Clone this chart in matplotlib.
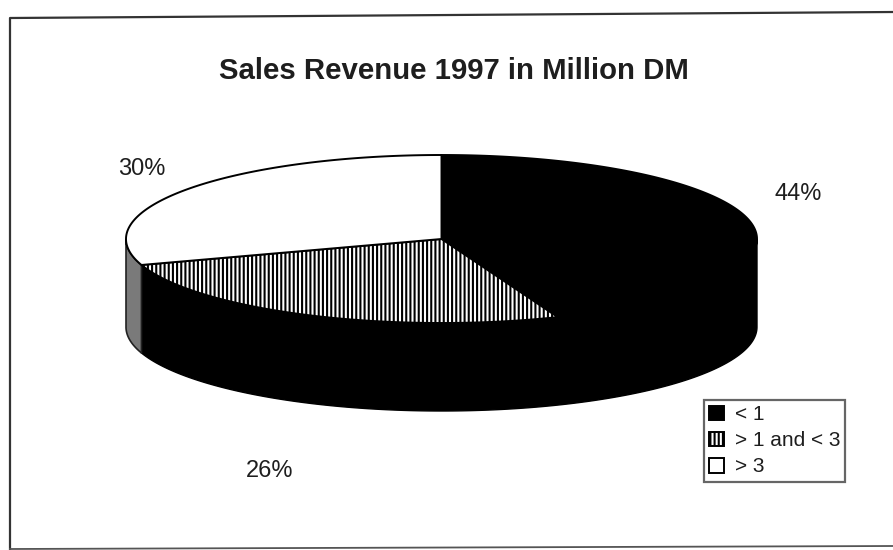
import numpy as np
import matplotlib
matplotlib.use('Agg')
import matplotlib.pyplot as plt
from matplotlib.patches import Patch, Polygon

plt.rcParams['font.family'] = ['Liberation Sans', 'DejaVu Sans']
plt.rcParams['hatch.linewidth'] = 1.5

title = 'Sales Revenue 1997 in Million DM'
categories = ['< 1', '> 1 and < 3', '> 3']
shares = [44, 26, 30]
share_labels = ['44%', '26%', '30%']

# pie drawn in image pixels
CX, CY = 441.5, 239
RX, RY = 315.5, 84
DEPTH = 88
INK = '#1e1e1e'


def rim(a0, a1, dy=0):
    '''Points on the ellipse, angles in degrees clockwise from 12 o'clock.'''
    t = np.radians(np.linspace(a0, a1, 200))
    return np.column_stack((CX + RX*np.sin(t), CY + dy - RY*np.cos(t)))


def wall(a0, a1):
    return np.vstack((rim(a0, a1), rim(a0, a1, DEPTH)[::-1]))


fig = plt.figure(figsize=(8.93, 5.5), dpi=100)
ax = fig.add_axes([0, 0, 1, 1])
ax.set_xlim(0, 893)
ax.set_ylim(550, 0)
ax.axis('off')

# scanned page frame, slightly skewed
ax.plot([893, 10, 10], [12, 18, 550], color='#333333', lw=1.6)
ax.plot([10, 893], [549, 546], color='#555555', lw=1.3)

edges = np.cumsum([0] + shares) * 3.6

# visible side of the cylinder
ax.add_patch(Polygon(wall(90, edges[2]), fc='black', ec='black', lw=1))
ax.add_patch(Polygon(wall(edges[2], 270), fc='#7a7a7a', ec='#222222', lw=1.2))

# top faces
styles = [dict(fc='black', ec='black'),
          dict(fc='white', ec='black', hatch='||||'),
          dict(fc='white', ec='black')]
for i, st in enumerate(styles):
    pts = np.vstack(([[CX, CY]], rim(edges[i], edges[i+1])))
    ax.add_patch(Polygon(pts, lw=1.4, **st))

ax.text(454, 71, title, fontsize=21.2, fontweight='bold', color=INK,
        ha='center', va='center')

label_pos = [(798, 194), (269.5, 471), (141.5, 169)]
for s, (x, y) in zip(share_labels, label_pos):
    ax.text(x, y, s, fontsize=17, color=INK, ha='center', va='center')

handles = [Patch(fc='black', ec='black', lw=1.4),
           Patch(fc='white', ec='black', lw=1.4, hatch='||||'),
           Patch(fc='white', ec='black', lw=1.4)]
leg = ax.legend(handles, categories, loc='upper left',
                bbox_to_anchor=(704, 400), bbox_transform=ax.transData,
                fontsize=15, frameon=True, fancybox=False, framealpha=1,
                edgecolor='#666666', handlelength=0.72, handleheight=0.72,
                handletextpad=0.5, labelspacing=0.34, borderpad=0.25,
                borderaxespad=0, labelcolor=INK)
leg.get_frame().set_linewidth(1.6)

fig.savefig('out.png', dpi=100)
